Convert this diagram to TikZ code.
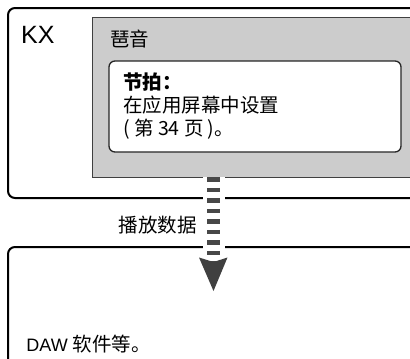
\documentclass[tikz,border=0pt]{standalone}
\usepackage{fontspec}
\setmainfont{Liberation Sans}
\newfontfamily\cjk{Noto Sans CJK SC}
\definecolor{panelgray}{HTML}{CCCCCC}
\definecolor{dashgray}{HTML}{484848}
\definecolor{headgray}{HTML}{404040}
\begin{document}
\begin{tikzpicture}[x=1pt,y=-1pt,
  unitbox/.style={draw=black,line width=2pt,rounded corners=7pt},
  cjktext/.style={inner sep=0pt,font=\cjk\fontsize{19.5}{23}\selectfont}]
\useasboundingbox (0,0) rectangle (410,359);
\clip (0,0) rectangle (410,359);

% KX unit
\draw[unitbox] (8,8) rectangle (440,198);
\node[anchor=base west,inner sep=0pt,font=\fontsize{25}{25}\selectfont] (kx) at (21,43) {KX};

% arpeggio panel
\node[fill=panelgray,draw=black!75,line width=0.9pt,minimum width=348pt,minimum height=160pt] (panel) at (266,97) {};
\node[cjktext,anchor=base west] (arp) at (110,46.6) {琶音};

% tempo box
\node[fill=white,draw=black!85,line width=1.3pt,rounded corners=6pt,minimum width=292pt,minimum height=91pt] (tempo) at (255,106.5) {};
\node[cjktext,anchor=north west,align=left] (tempotxt) at (123,73) {{\bfseries 节拍：}\\在应用屏幕中设置\\( 第 34 页 )。};

% DAW unit
\draw[unitbox] (8,247) rectangle (440,390);
\node[anchor=base west,inner sep=0pt,font=\fontsize{18}{18}\selectfont] (daw) at (26.3,351.7) {DAW {\cjk\fontsize{19.5}{19.5}\selectfont 软件等。}};

% playback data
\coordinate (tip) at (213.5,291);
\coordinate (notch) at (213.5,262);
\draw[white,line width=22pt] (panel.south -| tip) -- (notch);
\draw[dashgray,line width=13pt,dash pattern=on 4.3pt off 6.2pt] (panel.south -| tip) -- (notch);
\fill[headgray] (199,257.5) -- (notch) -- (227.5,257.5) -- (tip) -- cycle;
\node[cjktext,anchor=base east] (play) at (197,232.5) {播放数据};
\end{tikzpicture}
\end{document}
